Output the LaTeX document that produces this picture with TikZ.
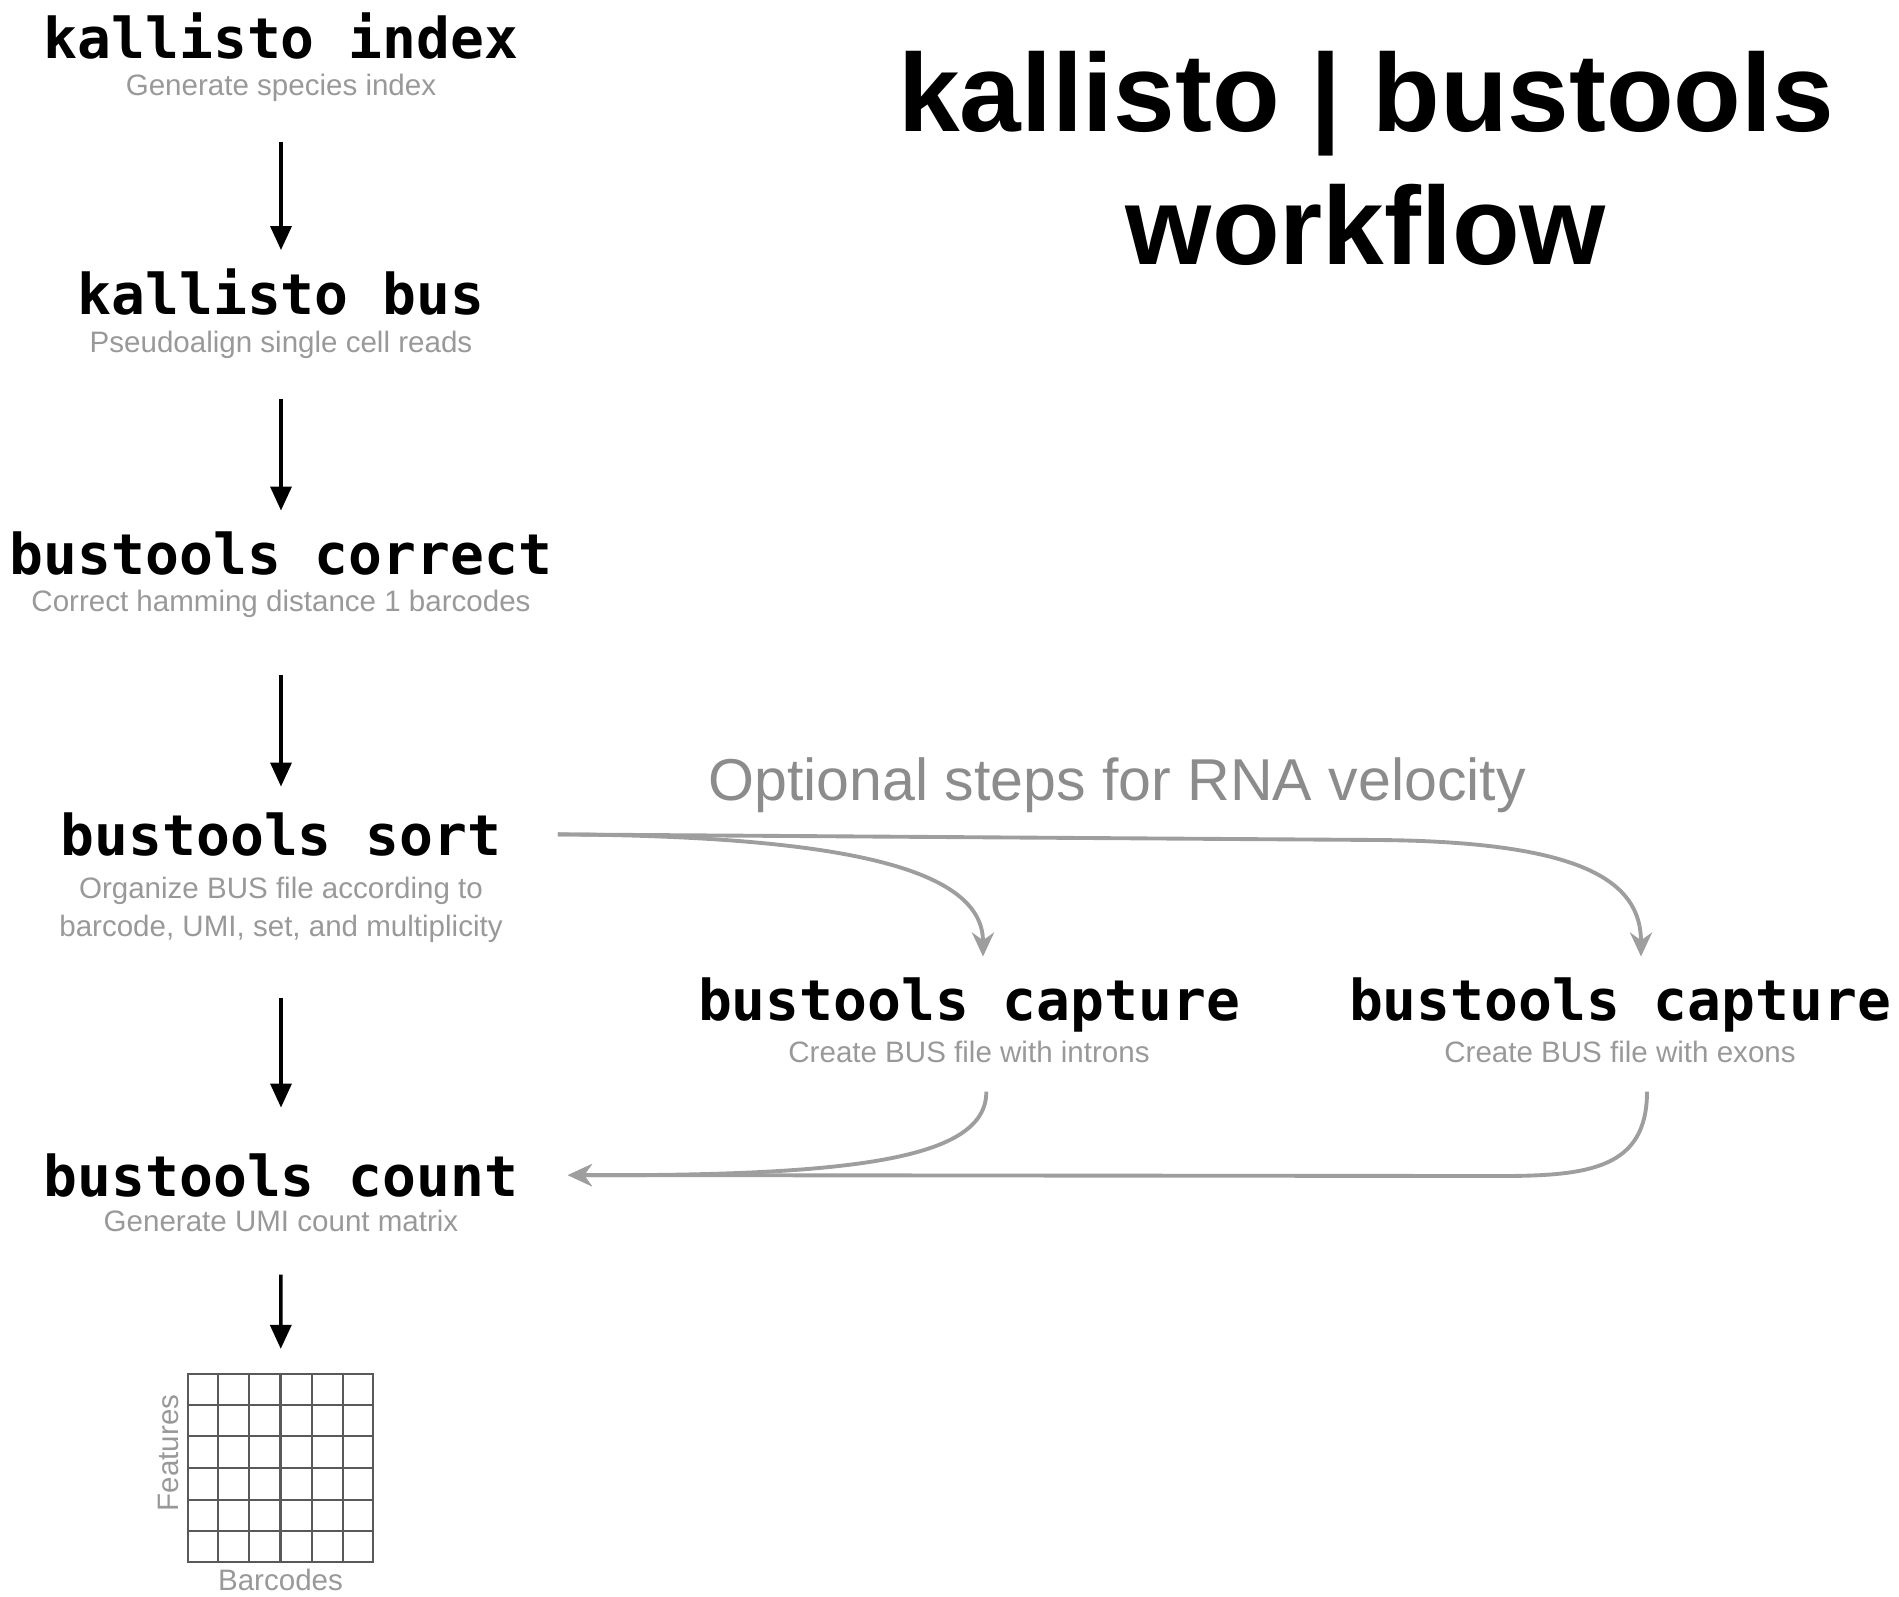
\documentclass[tikz,border=0pt]{standalone}
\usepackage{fontspec}
\setmainfont{Liberation Sans}
\newfontfamily\cmdfont{DejaVu Sans Mono}
\usepackage{xcolor}
\usepackage{tikz}
\usetikzlibrary{arrows.meta, positioning, calc}

\definecolor{subgray}{gray}{0.6}
\definecolor{optgray}{gray}{0.55}
\definecolor{linegray}{gray}{0.62}

\begin{document}
\begin{tikzpicture}[
    x=0.01cm, y=-0.01cm,
    cmd/.style={inner sep=0pt, anchor=base, font=\cmdfont\bfseries\fontsize{16}{19}\selectfont},
    desc/.style={inner sep=0pt, align=center, text=subgray, font=\fontsize{8.4}{10.8}\selectfont},
    flow/.style={-{Triangle[length=2.4mm, width=2.1mm]}, line width=1pt, black},
    opt/.style={-{Stealth[length=2.4mm, width=2.2mm]}, line width=1.1pt, linegray},
    gridline/.style={line width=0.6pt, black!65}
]
\useasboundingbox (0,0) rectangle (1899,1596);

% Main steps
\node[cmd] (index) at (281,58) {kallisto index};
\node[desc, below=1.4mm of index] (indexd) {Generate species index};

\node[cmd] (bus) at (281,314) {kallisto bus};
\node[desc, below=1.5mm of bus] (busd) {Pseudoalign single cell reads};

\node[cmd] (corr) at (281,574) {bustools correct};
\node[desc, below=1.4mm of corr] (corrd) {Correct hamming distance 1 barcodes};

\node[cmd] (sort) at (281,855) {bustools sort};
\node[desc, below=2mm of sort] (sortd) {Organize BUS file according to\\barcode, UMI, set, and multiplicity};

\node[cmd] (count) at (281,1196) {bustools count};
\node[desc, below=1.2mm of count] (countd) {Generate UMI count matrix};

% Optional steps
\node[cmd] (cap1) at (969,1020) {bustools capture};
\node[desc, below=0.8mm of cap1] (cap1d) {Create BUS file with introns};

\node[cmd] (cap2) at (1620,1020) {bustools capture};
\node[desc, below=0.8mm of cap2] (cap2d) {Create BUS file with exons};

\node[anchor=base, text=optgray, font=\fontsize{16.8}{20}\selectfont] (optlabel) at (1117,800) {Optional steps for RNA velocity};

% Title
\node[anchor=base, font=\bfseries\fontsize{31.5}{38}\selectfont] (title) at (1366,131) {kallisto | bustools};
\node[anchor=base, font=\bfseries\fontsize{31.5}{38}\selectfont] (title2) at (1366,264) {workflow};

% Count matrix
\node[draw=black!65, line width=0.6pt, minimum width=1.85cm, minimum height=1.88cm, inner sep=0pt] (mtx) at (280.5,1468) {};
\foreach \k in {1,...,5} {
    \draw[gridline] ($(mtx.north west)!\k/6!(mtx.north east)$) -- ($(mtx.south west)!\k/6!(mtx.south east)$);
    \draw[gridline] ($(mtx.north west)!\k/6!(mtx.south west)$) -- ($(mtx.north east)!\k/6!(mtx.south east)$);
}
\node[desc, rotate=90, anchor=south] (feat) at ([xshift=-0.07cm, yshift=0.15cm]mtx.west) {Features};
\node[desc, below=0.5mm of mtx] (bc) {Barcodes};

% Arrows
\draw[flow, shorten <=4mm, shorten >=1.75mm] (indexd) -- (bus);
\draw[flow, shorten <=4mm, shorten >=2mm] (busd) -- (corr);
\draw[flow, shorten <=5.7mm, shorten >=2.5mm] (corrd) -- (sort);
\draw[flow, shorten <=5.5mm, shorten >=4.5mm] (sortd) -- (count);
\draw[flow, shorten <=4.2mm, shorten >=2.4mm] (countd) -- (mtx);

\draw[opt, shorten <=5.6mm, shorten >=2mm] (sort.east) .. controls (850,836) and (983,870) .. ([xshift=0.14cm]cap1.north);
\draw[opt, shorten <=5.6mm, shorten >=2mm] (sort.east) -- (1380,840) .. controls (1580,842) and (1641,880) .. ([xshift=0.21cm]cap2.north);

\draw[opt, shorten <=2.8mm, shorten >=4.9mm] ([xshift=0.17cm]cap1d.south) .. controls (987,1160) and (850,1176) .. (count.east);
\draw[opt, shorten <=2.8mm, shorten >=4.9mm] ([xshift=0.27cm]cap2d.south) .. controls (1647,1168) and (1590,1176) .. (1500,1176) -- (count.east);

\end{tikzpicture}
\end{document}
